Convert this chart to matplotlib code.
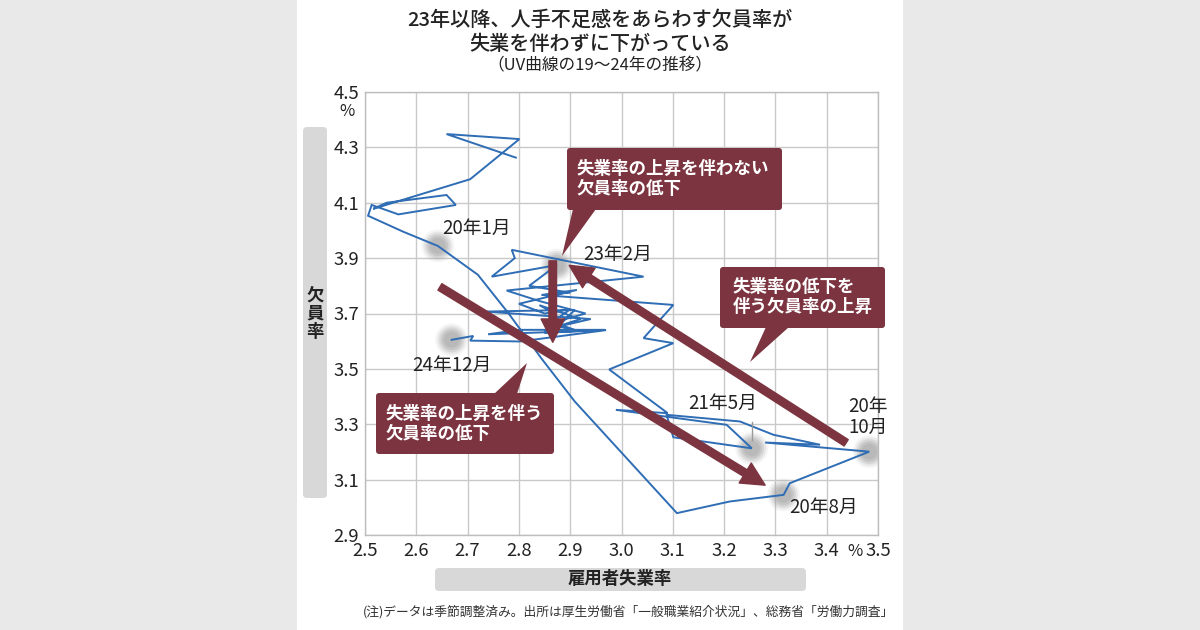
import matplotlib
matplotlib.use('Agg')
import matplotlib.pyplot as plt
from matplotlib.patches import FancyBboxPatch, Polygon, Rectangle, FancyArrowPatch

plt.rcParams['font.family'] = ['Noto Sans CJK JP', 'DejaVu Sans']

# ---------------- data (monthly, Jan 2019 - Dec 2024) ----------------
months = [f"{y}-{m:02d}" for y in range(19, 25) for m in range(1, 13)]
unemployment = [
    2.794, 2.659, 2.801, 2.705, 2.516, 2.542, 2.659, 2.677, 2.565, 2.513, 2.506, 2.575,   # 2019
    2.642, 2.720, 2.780, 2.845, 2.909, 3.108, 3.211, 3.316, 3.328, 3.483, 3.280, 3.387,   # 2020
    3.296, 3.231, 3.088, 3.101, 3.254, 3.205, 2.989, 3.090, 2.976, 3.101, 3.043, 3.101,   # 2021
    2.844, 2.913, 2.800, 2.850, 2.900, 2.862, 2.930, 2.840, 2.776, 3.043, 2.786, 2.792,   # 2022
    2.747, 2.874, 2.820, 2.900, 2.860, 2.870, 2.840, 2.920, 2.870, 2.940, 2.734, 2.909,   # 2023
    2.880, 2.910, 2.860, 2.850, 2.968, 2.802, 2.740, 2.970, 2.802, 2.705, 2.711, 2.669,   # 2024
]
vacancy = [
    4.263, 4.348, 4.330, 4.185, 4.078, 4.100, 4.128, 4.092, 4.058, 4.092, 4.053, 3.995,
    3.944, 3.840, 3.700, 3.535, 3.382, 2.979, 3.021, 3.045, 3.087, 3.201, 3.234, 3.226,
    3.262, 3.310, 3.334, 3.253, 3.213, 3.298, 3.352, 3.340, 3.498, 3.593, 3.611, 3.731,
    3.767, 3.785, 3.735, 3.700, 3.715, 3.665, 3.700, 3.745, 3.783, 3.833, 3.930, 3.900,
    3.833, 3.875, 3.800, 3.775, 3.770, 3.700, 3.730, 3.680, 3.650, 3.680, 3.707, 3.713,
    3.660, 3.640, 3.660, 3.630, 3.641, 3.641, 3.625, 3.640, 3.599, 3.602, 3.619, 3.605,
]
x_ticks = [2.5, 2.6, 2.7, 2.8, 2.9, 3.0, 3.1, 3.2, 3.3, 3.4, 3.5]
x_tick_labels = ["2.5", "2.6", "2.7", "2.8", "2.9", "3.0", "3.1", "3.2", "3.3", "3.4", "3.5"]
y_ticks = [2.9, 3.1, 3.3, 3.5, 3.7, 3.9, 4.1, 4.3, 4.5]
y_tick_labels = ["2.9", "3.1", "3.3", "3.5", "3.7", "3.9", "4.1", "4.3", "4.5"]

# labelled months: (month key, label text, offset px dx, dy, ha)
point_labels = [
    ("20-01", "20年1月", 39, 18, "center"),
    ("23-02", "23年2月", 26, 11, "left"),
    ("24-12", "24年12月", 0, -26, "center"),
    ("21-05", "21年5月", -29, 45, "center"),
    ("20-10", "20年\n10月", -1, 35, "center"),
    ("20-08", "20年8月", 40, -13, "center"),
]

BLUE = "#2f6db5"
RED = "#7c3540"
GRID = "#c9c9c9"
TXT = "#222222"

W, H = 1200, 630
fig = plt.figure(figsize=(12, 6.3), dpi=100, facecolor="#e9e9e9")
fig.patches.append(Rectangle((297 / W, 0), 606 / W, 1, transform=fig.transFigure,
                             facecolor="white", edgecolor="none", zorder=-5))

ax = fig.add_axes([365 / W, 1 - 535 / H, 513 / W, 443 / H], zorder=1)
ax.set_xlim(2.5, 3.5)
ax.set_ylim(2.9, 4.5)
ax.set_facecolor("white")
ax.set_xticks(x_ticks)
ax.set_xticklabels(x_tick_labels)
ax.set_yticks(y_ticks)
ax.set_yticklabels(y_tick_labels)
ax.tick_params(axis="both", length=0, labelsize=13.3, colors=TXT)
ax.tick_params(axis="x", pad=5)
ax.tick_params(axis="y", pad=4)
ax.grid(True, color=GRID, lw=1.0)
ax.set_axisbelow(True)
for s in ax.spines.values():
    s.set_color("#bdbdbd")
    s.set_linewidth(1.0)

# blurred gray dots at labelled points
idx = {m: i for i, m in enumerate(months)}
for key, *_ in point_labels:
    i = idx[key]
    for s, a in [(560, 0.10), (430, 0.16), (320, 0.24), (220, 0.30), (130, 0.30)]:
        ax.scatter([unemployment[i]], [vacancy[i]], s=s, color="#a0a0a0",
                   alpha=a, edgecolors="none", zorder=2)

# UV curve
ax.plot(unemployment, vacancy, color=BLUE, lw=1.4, zorder=3, solid_joinstyle="miter")

# labels
for key, text, dx, dy, ha in point_labels:
    i = idx[key]
    ax.annotate(text, (unemployment[i], vacancy[i]), xytext=(dx, dy),
                textcoords="offset pixels", ha=ha, va="center", fontsize=13.5,
                color=TXT, zorder=6, linespacing=1.0)
i = idx["21-05"]
ax.plot([unemployment[i]] * 2, [vacancy[i] + 0.03, vacancy[i] + 0.094],
        color="#9a9a9a", lw=1.0, zorder=4)

# trend arrows
arrows = [
    ((3.438, 3.233), (2.898, 3.874)),
    ((2.866, 3.890), (2.866, 3.596)),
    ((2.646, 3.796), (3.280, 3.080)),
]
for tail, tip in arrows:
    ax.add_patch(FancyArrowPatch(tail, tip,
                                 arrowstyle="simple,head_length=1.05,head_width=1.05,tail_width=0.34",
                                 mutation_scale=16, color=RED, shrinkA=0, shrinkB=0, zorder=5))

# ---------------- overlay in pixel coordinates ----------------
ov = fig.add_axes([0, 0, 1, 1], zorder=10)
ov.set_xlim(0, W)
ov.set_ylim(H, 0)
ov.axis("off")
ov.patch.set_alpha(0)

ov.text(600, 20, "23年以降、人手不足感をあらわす欠員率が", ha="center", va="center",
        fontsize=14.5, color=TXT, fontweight="medium")
ov.text(600, 44, "失業を伴わずに下がっている", ha="center", va="center",
        fontsize=14.5, color=TXT, fontweight="medium")
ov.text(600, 66, "（UV曲線の19～24年の推移）", ha="center", va="center",
        fontsize=12, color=TXT)

ov.text(347, 111, "%", ha="center", va="center", fontsize=12, color=TXT)
ov.text(855, 551, "%", ha="center", va="center", fontsize=12, color=TXT)

# axis label boxes
ov.add_patch(FancyBboxPatch((303, 127), 24, 371, boxstyle="round,pad=0,rounding_size=4",
                            facecolor="#d8d8d8", edgecolor="none"))
ov.text(315, 314, "欠\n員\n率", ha="center", va="center", fontsize=12.5,
        fontweight="bold", color=TXT, linespacing=1.0)
ov.add_patch(FancyBboxPatch((435, 568), 371, 23, boxstyle="round,pad=0,rounding_size=4",
                            facecolor="#d8d8d8", edgecolor="none"))
ov.text(620, 579.5, "雇用者失業率", ha="center", va="center", fontsize=12.5,
        fontweight="bold", color=TXT)

ov.text(363, 612, "(注)データは季節調整済み。出所は厚生労働省「一般職業紹介状況」、総務省「労働力調査」",
        ha="left", va="center", fontsize=9.2, color="#333333")

# callouts
callouts = [
    ((567, 148, 215, 62), [(573, 209), (596, 209), (562, 256)],
     "失業率の上昇を伴わない\n欠員率の低下", (577, 179)),
    ((720, 267, 165, 61), [(766, 327), (789, 327), (750, 362)],
     "失業率の低下を\n伴う欠員率の上昇", (733, 297)),
    ((376, 393, 178, 61), [(494, 394), (517, 394), (527, 363)],
     "失業率の上昇を伴う\n欠員率の低下", (386, 424)),
]
for (bx, by, bw, bh), tri, text, (tx, ty) in callouts:
    ov.add_patch(Polygon(tri, closed=True, facecolor=RED, edgecolor="none"))
    ov.add_patch(FancyBboxPatch((bx, by), bw, bh, boxstyle="round,pad=0,rounding_size=3",
                                facecolor=RED, edgecolor="none"))
    ov.text(tx, ty, text, ha="left", va="center", fontsize=12.6, fontweight="bold",
            color="white", linespacing=1.2)

fig.savefig("out.png", dpi=100, facecolor=fig.get_facecolor())
